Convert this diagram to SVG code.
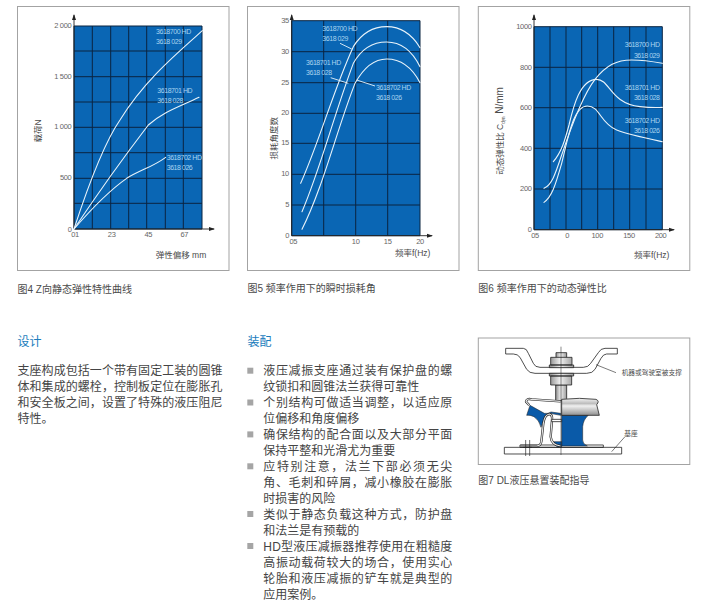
<svg xmlns="http://www.w3.org/2000/svg" width="712" height="613" viewBox="0 0 712 613">
<style>
text{font-family:"Liberation Sans","Noto Sans CJK SC",sans-serif;fill:#4a4a4a}
.frame{fill:#fff;stroke:#a3a3a3;stroke-width:1}
.plot{fill:#0a66b4}
.grid{stroke:#0b2440;stroke-width:1;fill:none}
.axis{stroke:#222;stroke-width:.9;fill:none;marker-end:url(#a)}
.curve{fill:none;stroke:#e8f3fa;stroke-width:3.3;stroke-linecap:round}
.lead{stroke:#e8f3fa;stroke-width:.9;fill:none}
.lb{font-size:7px;letter-spacing:-.45px;fill:#a9d4ef}
.lbe{font-size:7px;letter-spacing:-.45px;fill:#a9d4ef;text-anchor:end}
.ty{font-size:7.5px;letter-spacing:-.3px;text-anchor:end;fill:#666}
.tx{font-size:7.5px;letter-spacing:-.3px;text-anchor:middle;fill:#666}
.ax{font-size:8.5px}
.cap{font-size:10px}
.h{font-size:12px;fill:#1b7dbd}
.b{font-size:12px;fill:#444}
.bl{fill:#a5a5a5}
.m{stroke:#222;stroke-width:2.4;fill:#fff;stroke-linejoin:round}
.g{stroke:#222;stroke-width:2.4;fill:url(#mg);stroke-linejoin:round}
.bu{stroke:#222;stroke-width:1.6;fill:#0a5aa8;stroke-linejoin:round}
.t{stroke:#222;stroke-width:2;fill:none}
.so{stroke:#222;stroke-width:7;fill:none;stroke-linejoin:round}
.si{stroke:#e6e6e6;stroke-width:3.4;fill:none;stroke-linejoin:round}
.ml{font-size:6.7px}
</style>
<defs>
<marker id="a" markerWidth="6" markerHeight="5" refX="5" refY="2.5" orient="auto" markerUnits="userSpaceOnUse"><path d="M0,0.5L6,2.5L0,4.5Z" fill="#222"/></marker>
<linearGradient id="mg" x1="0" x2="1" y1="0" y2="0"><stop offset="0" stop-color="#8d8d8d"/><stop offset=".45" stop-color="#f2f2f2"/><stop offset="1" stop-color="#9a9a9a"/></linearGradient>
<linearGradient id="mv" x1="0" x2="0" y1="0" y2="1"><stop offset="0" stop-color="#f4f4f4"/><stop offset=".3" stop-color="#bdbdbd"/><stop offset=".45" stop-color="#f0f0f0"/><stop offset="1" stop-color="#8f8f8f"/></linearGradient>
</defs>

<g id="chart4">
<rect class="frame" x="17.5" y="6.5" width="211.5" height="264"/>
<rect class="plot" x="74" y="26" width="128" height="203"/>
<path class="grid" d="M74 26V229M92.3 26V229M110.7 26V229M128.7 26V229M146.7 26V229M165.3 26V229M183.3 26V229M202 26V229M74 26H202M74 51H202M74 76.7H202M74 102H202M74 127.3H202M74 152.7H202M74 178.3H202M74 203.3H202M74 229H202"/>
<path class="axis" d="M74 229V15"/><path class="axis" d="M74 229H214"/>
<g transform="translate(10 0) scale(.33333)">
<path class="curve" d="M192,687C240,540 285,425 330,360C400,245 495,165 577,92"/>
<path class="curve" d="M192,687C270,570 350,460 415,375C460,335 510,320 567,292"/>
<path class="curve" d="M192,687C250,620 300,570 350,535C390,510 430,500 467,472"/>
</g>
<text class="lb" x="156" y="34">3618700 HD</text><text class="lb" x="156" y="44">3618 029</text>
<text class="lb" x="157.3" y="93">3618701 HD</text><text class="lb" x="157.3" y="102.5">3618 028</text>
<text class="lb" x="166.7" y="160">3618702 HD</text><text class="lb" x="166.7" y="170">3618 026</text>
<text class="ty" x="71.5" y="27.5">2 000</text><text class="ty" x="71.5" y="78.5">1 500</text><text class="ty" x="71.5" y="129">1 000</text><text class="ty" x="71.5" y="180">500</text><text class="ty" x="71.5" y="231.5">0</text>
<text class="tx" x="75" y="237">01</text><text class="tx" x="111.7" y="237">23</text><text class="tx" x="148.3" y="237">45</text><text class="tx" x="184.3" y="237">67</text>
<text class="ax" x="155.7" y="258">弹性偏移 mm</text>
<text class="ax" text-anchor="middle" transform="translate(41 131) rotate(-90)">载荷N</text>
<text class="cap" x="17.5" y="293">图4 Z向静态弹性特性曲线</text>
</g>

<g id="chart5">
<rect class="frame" x="247.5" y="6.5" width="211.5" height="264"/>
<rect class="plot" x="291.7" y="20.7" width="128.3" height="215"/>
<path class="grid" d="M291.7 20.7V235.7M323.7 20.7V235.7M355.7 20.7V235.7M387.7 20.7V235.7M420 20.7V235.7M291.7 20.7H420M291.7 51.7H420M291.7 82.7H420M291.7 113.3H420M291.7 143.3H420M291.7 174.3H420M291.7 205H420M291.7 235.7H420"/>
<path class="axis" d="M291.7 235.7V15"/><path class="axis" d="M291.7 235.7H432"/>
<g transform="translate(240 0) scale(.33333)">
<path class="curve" d="M182,550C240,420 280,270 340,140C365,100 400,80 440,80C490,80 520,110 540,143"/>
<path class="curve" d="M186,635C240,510 280,350 340,190C365,145 400,126 440,126C490,126 520,160 540,200"/>
<path class="curve" d="M186,688C250,560 290,390 345,250C370,205 400,177 440,177C490,177 520,210 540,248"/>
</g>
<path class="lead" d="M340 43.3L351.7 49M330.7 77.7L348.3 83.3M356.7 80L375 86"/>
<text class="lb" x="322.3" y="31">3618700 HD</text><text class="lb" x="322.3" y="41">3618 029</text>
<text class="lb" x="306" y="65">3618701 HD</text><text class="lb" x="306" y="75">3618 028</text>
<text class="lb" x="376" y="90">3618702 HD</text><text class="lb" x="376" y="99.5">3618 026</text>
<text class="ty" x="289" y="23">35</text><text class="ty" x="289" y="54">30</text><text class="ty" x="289" y="85">25</text><text class="ty" x="289" y="115">20</text><text class="ty" x="289" y="145">15</text><text class="ty" x="289" y="176">10</text><text class="ty" x="289" y="207">5</text><text class="ty" x="289" y="238">0</text>
<text class="tx" x="293.3" y="244">05</text><text class="tx" x="355.7" y="244">10</text><text class="tx" x="387.7" y="244">15</text><text class="tx" x="420" y="244">20</text>
<text class="ax" x="395" y="256">频率f(Hz)</text>
<text class="ax" text-anchor="middle" transform="translate(276.5 138.3) rotate(-90)">损耗角度数</text>
<text class="cap" x="247.5" y="292">图5 频率作用下的瞬时损耗角</text>
</g>

<g id="chart6">
<rect class="frame" x="478.3" y="6.5" width="211.5" height="264"/>
<rect class="plot" x="534" y="26.7" width="128.3" height="203"/>
<path class="grid" d="M534 26.7V229.7M550 26.7V229.7M566 26.7V229.7M581.7 26.7V229.7M597.7 26.7V229.7M613.7 26.7V229.7M629.7 26.7V229.7M646 26.7V229.7M662.3 26.7V229.7M534 26.7H662.3M534 67.3H662.3M534 107.7H662.3M534 148.3H662.3M534 189H662.3M534 229.7H662.3"/>
<path class="axis" d="M534 229.7V15"/><path class="axis" d="M534 229.7H674"/>
<g transform="translate(470 0) scale(.33333)">
<path class="curve" d="M222,565C245,555 255,525 275,465C300,390 335,290 375,238C410,195 440,180 485,180C520,180 550,185 577,190"/>
<path class="curve" d="M250,485C275,455 285,420 297,375C310,320 330,238 380,238C420,238 420,310 510,320C540,323 560,323 577,322"/>
<path class="curve" d="M222,607C245,590 255,560 275,490C295,410 310,318 352,318C390,318 390,370 440,390C480,405 530,415 577,425"/>
</g>
<text class="lbe" x="659.5" y="47.3">3618700 HD</text><text class="lbe" x="659.5" y="57.5">3618 029</text>
<text class="lbe" x="659.5" y="90">3618701 HD</text><text class="lbe" x="659.5" y="100">3618 028</text>
<text class="lbe" x="659.5" y="122.5">3618702 HD</text><text class="lbe" x="659.5" y="132.5">3618 026</text>
<text class="ty" x="531.7" y="28.5">1000</text><text class="ty" x="531.7" y="69.5">800</text><text class="ty" x="531.7" y="110">600</text><text class="ty" x="531.7" y="150.5">400</text><text class="ty" x="531.7" y="191">200</text><text class="ty" x="531.7" y="232">0</text>
<text class="tx" x="535" y="237.5">05</text><text class="tx" x="567.3" y="237.5">0</text><text class="tx" x="597.3" y="237.5">100</text><text class="tx" x="629" y="237.5">150</text><text class="tx" x="660.7" y="237.5">200</text>
<text class="ax" x="634" y="257.5">频率f(Hz)</text>
<text class="ax" text-anchor="middle" transform="translate(503 131) rotate(-90)">动态弹性比 C<tspan font-size="4.5" dy="1.5">dyn</tspan><tspan dy="-1.5" font-size="10"> N/mm</tspan></text>
<text class="cap" x="478.3" y="292">图6 频率作用下的动态弹性比</text>
</g>

<g id="design">
<text class="h" x="17.5" y="346">设计</text>
<text class="b" x="17.5" y="375" textLength="205">支座构成包括一个带有固定工装的圆锥</text>
<text class="b" x="17.5" y="391" textLength="205">体和集成的螺栓，控制板定位在膨胀孔</text>
<text class="b" x="17.5" y="407" textLength="205">和安全板之间，设置了特殊的液压阻尼</text>
<text class="b" x="17.5" y="422.5">特性。</text>
</g>

<g id="assembly">
<text class="h" x="247.5" y="346">装配</text>
<rect class="bl" x="247.3" y="367.7" width="6" height="6"/>
<rect class="bl" x="247.3" y="399.5" width="6" height="6"/>
<rect class="bl" x="247.3" y="431.4" width="6" height="6"/>
<rect class="bl" x="247.3" y="463.3" width="6" height="6"/>
<rect class="bl" x="247.3" y="511" width="6" height="6"/>
<rect class="bl" x="247.3" y="543" width="6" height="6"/>
<text class="b" x="263.3" y="375" textLength="189">液压减振支座通过装有保护盘的螺</text>
<text class="b" x="263.3" y="391">纹锁扣和圆锥法兰获得可靠性</text>
<text class="b" x="263.3" y="407" textLength="189">个别结构可做适当调整，以适应原</text>
<text class="b" x="263.3" y="423">位偏移和角度偏移</text>
<text class="b" x="263.3" y="439" textLength="189">确保结构的配合面以及大部分平面</text>
<text class="b" x="263.3" y="455">保持平整和光滑尤为重要</text>
<text class="b" x="263.3" y="471" textLength="189">应特别注意，法兰下部必须无尖</text>
<text class="b" x="263.3" y="486.5" textLength="189">角、毛刺和碎屑，减小橡胶在膨胀</text>
<text class="b" x="263.3" y="502.5">时损害的风险</text>
<text class="b" x="263.3" y="518.5" textLength="189">类似于静态负载这种方式，防护盘</text>
<text class="b" x="263.3" y="534.5">和法兰是有预载的</text>
<text class="b" x="263.3" y="550.5" textLength="189">HD型液压减振器推荐使用在粗糙度</text>
<text class="b" x="263.3" y="566.5" textLength="189">高振动载荷较大的场合，使用实心</text>
<text class="b" x="263.3" y="582.5" textLength="189">轮胎和液压减振的铲车就是典型的</text>
<text class="b" x="263.3" y="598.5">应用案例。</text>
</g>

<g id="chart7">
<rect class="frame" x="478.3" y="338" width="211.5" height="126.5"/>
<g transform="translate(470 330) scale(.33333)">
<path class="m" d="M103,352H455V372H103ZM150,345H400V352H150Z"/>
<path class="m" d="M107,55H160Q170,55 175,70L190,100Q195,112 210,112H340Q355,112 362,100L385,68Q392,55 405,55H442V72H410Q400,72 393,85L375,118Q368,130 350,130H195Q178,130 170,118L150,82Q143,72 130,72H107Z"/>
<path class="g" d="M258,68H290V85H258ZM257,165H290V212H257Z"/>
<path class="g" d="M242,82H306V105H242ZM238,105H311V113H238ZM238,130H311V138H238ZM242,138H305V165H242Z"/>
<path class="bu" d="M275,256H355Q340,268 338,290V330Q338,342 352,348H275Z"/>
<path d="M275,208Q330,202 378,208Q390,213 380,224L388,256H275Z" stroke="#222" stroke-width="2.4" fill="url(#mv)"/>
<path class="bu" d="M180,226L223,250Q235,252 243,246L272,250V256L240,250Q228,252 222,268L213,292Q208,270 192,260Q180,254 170,256Z"/>
<path class="bu" d="M248,335H275V350H262Q250,345 248,335Z"/>
<path class="so" d="M152,348H200Q212,348 214,335L220,280Q224,254 238,252Q248,254 246,270L242,320Q244,345 272,348"/>
<path class="si" d="M152,348H200Q212,348 214,335L220,280Q224,254 238,252Q248,254 246,270L242,320Q244,345 272,348"/>
<path class="so" d="M272,214L185,208Q170,204 168,215L178,226"/>
<path class="si" d="M272,214L185,208Q170,204 168,215L178,226"/>
<path class="m" d="M245,268H275V275H245Z" fill="#ccc"/>
<path class="t" d="M167,330V378M179,330V378M160,352H186"/>
<path d="M273,50V375" fill="none" stroke="#222" stroke-width="1.6"/>
<path d="M378,104L438,128M465,320L425,365" fill="none" stroke="#222" stroke-width="1.8"/>
</g>
<text class="ml" x="621.7" y="374.5">机器或驾驶室被支撑</text>
<text class="ml" x="624.3" y="435.5">基座</text>
<text class="cap" x="478.3" y="483.5">图7 DL液压悬置装配指导</text>
</g>
</svg>
